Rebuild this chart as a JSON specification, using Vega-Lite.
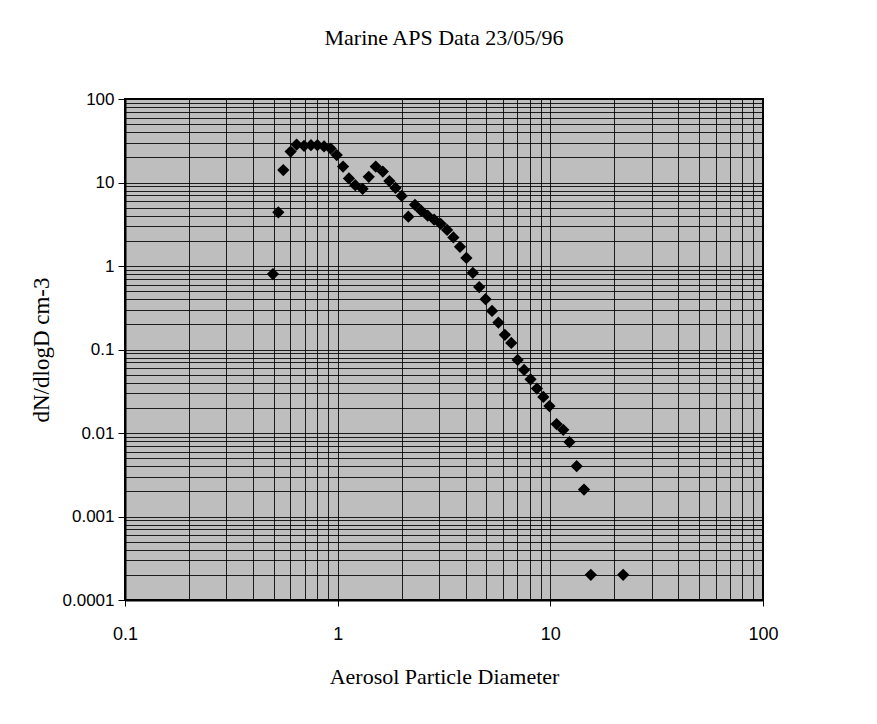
{
  "$schema": "https://vega.github.io/schema/vega-lite/v6.json",
  "width": 638,
  "height": 501,
  "autosize": {"type": "none"},
  "padding": {"left": 125, "top": 99, "right": 114, "bottom": 124},
  "background": "white",
  "title": {
    "text": "Marine APS Data 23/05/96",
    "font": "Liberation Serif",
    "fontSize": 22,
    "fontWeight": "normal",
    "color": "black",
    "offset": 40,
    "anchor": "middle"
  },
  "data": {
    "values": [
      {"d": 0.496, "n": 0.80},
      {"d": 0.526, "n": 4.4},
      {"d": 0.555, "n": 14.1},
      {"d": 0.601, "n": 23.5},
      {"d": 0.641, "n": 28.5},
      {"d": 0.695, "n": 27.5},
      {"d": 0.749, "n": 28},
      {"d": 0.803, "n": 28},
      {"d": 0.863, "n": 27},
      {"d": 0.927, "n": 25.5},
      {"d": 0.99, "n": 21.3},
      {"d": 1.06, "n": 15.5},
      {"d": 1.13, "n": 11.2},
      {"d": 1.21, "n": 9.3},
      {"d": 1.31, "n": 8.4},
      {"d": 1.40, "n": 11.7},
      {"d": 1.51, "n": 15.5},
      {"d": 1.63, "n": 13.5},
      {"d": 1.75, "n": 10.4},
      {"d": 1.87, "n": 8.6},
      {"d": 2.00, "n": 6.9},
      {"d": 2.15, "n": 3.9},
      {"d": 2.31, "n": 5.4},
      {"d": 2.47, "n": 4.6},
      {"d": 2.65, "n": 4.0},
      {"d": 2.84, "n": 3.6},
      {"d": 3.05, "n": 3.2},
      {"d": 3.27, "n": 2.7},
      {"d": 3.50, "n": 2.2},
      {"d": 3.76, "n": 1.7},
      {"d": 4.03, "n": 1.25},
      {"d": 4.32, "n": 0.83},
      {"d": 4.63, "n": 0.56},
      {"d": 4.96, "n": 0.40},
      {"d": 5.32, "n": 0.29},
      {"d": 5.70, "n": 0.21},
      {"d": 6.11, "n": 0.15},
      {"d": 6.55, "n": 0.12},
      {"d": 7.02, "n": 0.075},
      {"d": 7.53, "n": 0.057},
      {"d": 8.07, "n": 0.044},
      {"d": 8.65, "n": 0.034},
      {"d": 9.27, "n": 0.027},
      {"d": 9.90, "n": 0.021},
      {"d": 10.7, "n": 0.0128},
      {"d": 11.5, "n": 0.0109},
      {"d": 12.3, "n": 0.0078},
      {"d": 13.3, "n": 0.0040},
      {"d": 14.4, "n": 0.0021},
      {"d": 15.5, "n": 0.0002},
      {"d": 22.0, "n": 0.0002}
    ]
  },
  "mark": {"type": "point", "shape": "diamond", "filled": true, "color": "black", "size": 150, "opacity": 1},
  "encoding": {
    "x": {
      "field": "d",
      "type": "quantitative",
      "scale": {"type": "log", "domain": [0.1, 100], "nice": false},
      "axis": {
        "title": "Aerosol Particle Diameter",
        "values": [0.1,0.2,0.3,0.4,0.5,0.6,0.7,0.8,0.9,1,2,3,4,5,6,7,8,9,10,20,30,40,50,60,70,80,90,100],
        "format": "~g",
        "labelExpr": "abs(log(datum.value)/LN10 - round(log(datum.value)/LN10)) < 0.001 ? datum.label : ''",
        "tickColor": {"condition": {"test": "abs(log(datum.value)/LN10 - round(log(datum.value)/LN10)) < 0.001", "value": "black"}, "value": "transparent"},
        "tickSize": 6,
        "labelPadding": 19,
        "labelFont": "Liberation Sans",
        "labelFontSize": 18,
        "labelColor": "black",
        "labelOverlap": false,
        "labelFlush": false,
        "titleFont": "Liberation Serif",
        "titleFontSize": 22,
        "titleFontWeight": "normal",
        "titleColor": "black",
        "titlePadding": 23,
        "domainColor": "black",
        "domainWidth": 2,
        "grid": true,
        "gridColor": "black",
        "gridWidth": 1,
        "gridOpacity": 0.85
      }
    },
    "y": {
      "field": "n",
      "type": "quantitative",
      "scale": {"type": "log", "domain": [0.0001, 100], "nice": false},
      "axis": {
        "title": "dN/dlogD cm-3",
        "values": [0.0001,0.0002,0.0003,0.0004,0.0005,0.0006,0.0007,0.0008,0.0009,0.001,0.002,0.003,0.004,0.005,0.006,0.007,0.008,0.009,0.01,0.02,0.03,0.04,0.05,0.06,0.07,0.08,0.09,0.1,0.2,0.3,0.4,0.5,0.6,0.7,0.8,0.9,1,2,3,4,5,6,7,8,9,10,20,30,40,50,60,70,80,90,100],
        "format": "~g",
        "labelExpr": "abs(log(datum.value)/LN10 - round(log(datum.value)/LN10)) < 0.001 ? datum.label : ''",
        "tickColor": {"condition": {"test": "abs(log(datum.value)/LN10 - round(log(datum.value)/LN10)) < 0.001", "value": "black"}, "value": "transparent"},
        "tickSize": 7,
        "labelPadding": 4,
        "labelFont": "Liberation Sans",
        "labelFontSize": 17,
        "labelColor": "black",
        "labelOverlap": false,
        "labelFlush": false,
        "titleFont": "Liberation Serif",
        "titleFontSize": 23,
        "titleFontWeight": "normal",
        "titleColor": "black",
        "titlePadding": 9,
        "domainColor": "black",
        "domainWidth": 2,
        "grid": true,
        "gridColor": "black",
        "gridWidth": 1,
        "gridOpacity": 0.85
      }
    }
  },
  "config": {
    "view": {"fill": "#bebebe", "stroke": "black", "strokeWidth": 2}
  }
}
